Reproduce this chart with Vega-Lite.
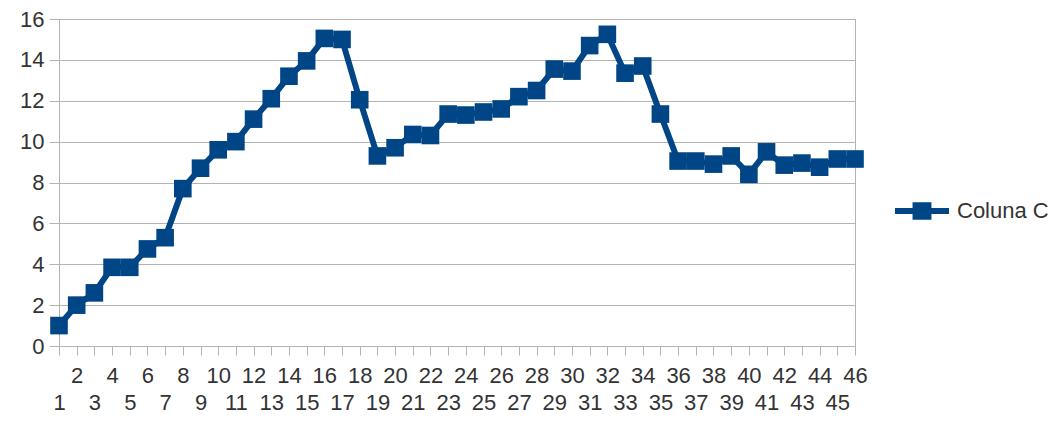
{
  "$schema": "https://vega.github.io/schema/vega-lite/v6.json",
  "width": 796,
  "height": 327,
  "autosize": {"type": "none"},
  "padding": {"left": 59, "top": 19, "right": 209, "bottom": 79},
  "background": "white",
  "config": {
    "view": {"stroke": "#b3b3b3", "strokeWidth": 1},
    "font": "Liberation Sans"
  },
  "data": {
    "values": [
      {"n": 1, "v": 1.0, "s": "Coluna C"},
      {"n": 2, "v": 2.0, "s": "Coluna C"},
      {"n": 3, "v": 2.6, "s": "Coluna C"},
      {"n": 4, "v": 3.85, "s": "Coluna C"},
      {"n": 5, "v": 3.85, "s": "Coluna C"},
      {"n": 6, "v": 4.75, "s": "Coluna C"},
      {"n": 7, "v": 5.3, "s": "Coluna C"},
      {"n": 8, "v": 7.7, "s": "Coluna C"},
      {"n": 9, "v": 8.7, "s": "Coluna C"},
      {"n": 10, "v": 9.6, "s": "Coluna C"},
      {"n": 11, "v": 10.0, "s": "Coluna C"},
      {"n": 12, "v": 11.1, "s": "Coluna C"},
      {"n": 13, "v": 12.1, "s": "Coluna C"},
      {"n": 14, "v": 13.2, "s": "Coluna C"},
      {"n": 15, "v": 13.95, "s": "Coluna C"},
      {"n": 16, "v": 15.05, "s": "Coluna C"},
      {"n": 17, "v": 15.0, "s": "Coluna C"},
      {"n": 18, "v": 12.05, "s": "Coluna C"},
      {"n": 19, "v": 9.3, "s": "Coluna C"},
      {"n": 20, "v": 9.7, "s": "Coluna C"},
      {"n": 21, "v": 10.35, "s": "Coluna C"},
      {"n": 22, "v": 10.3, "s": "Coluna C"},
      {"n": 23, "v": 11.35, "s": "Coluna C"},
      {"n": 24, "v": 11.3, "s": "Coluna C"},
      {"n": 25, "v": 11.45, "s": "Coluna C"},
      {"n": 26, "v": 11.6, "s": "Coluna C"},
      {"n": 27, "v": 12.2, "s": "Coluna C"},
      {"n": 28, "v": 12.5, "s": "Coluna C"},
      {"n": 29, "v": 13.55, "s": "Coluna C"},
      {"n": 30, "v": 13.45, "s": "Coluna C"},
      {"n": 31, "v": 14.7, "s": "Coluna C"},
      {"n": 32, "v": 15.25, "s": "Coluna C"},
      {"n": 33, "v": 13.35, "s": "Coluna C"},
      {"n": 34, "v": 13.7, "s": "Coluna C"},
      {"n": 35, "v": 11.35, "s": "Coluna C"},
      {"n": 36, "v": 9.05, "s": "Coluna C"},
      {"n": 37, "v": 9.05, "s": "Coluna C"},
      {"n": 38, "v": 8.9, "s": "Coluna C"},
      {"n": 39, "v": 9.3, "s": "Coluna C"},
      {"n": 40, "v": 8.4, "s": "Coluna C"},
      {"n": 41, "v": 9.5, "s": "Coluna C"},
      {"n": 42, "v": 8.85, "s": "Coluna C"},
      {"n": 43, "v": 8.95, "s": "Coluna C"},
      {"n": 44, "v": 8.75, "s": "Coluna C"},
      {"n": 45, "v": 9.15, "s": "Coluna C"},
      {"n": 46, "v": 9.15, "s": "Coluna C"}
    ]
  },
  "mark": {
    "type": "line",
    "strokeWidth": 6,
    "point": {"shape": "square", "size": 310, "filled": true, "opacity": 1}
  },
  "encoding": {
    "x": {
      "field": "n",
      "type": "ordinal",
      "sort": "ascending",
      "scale": {"type": "point", "padding": 0},
      "axis": {
        "title": null,
        "grid": false,
        "labelAngle": 0,
        "labelFontSize": 22,
        "labelColor": "#333333",
        "labelBaseline": "top",
        "labelLineHeight": 27,
        "labelPadding": 10,
        "labelOverlap": false,
        "labelFlush": false,
        "labelBound": false,
        "labelExpr": "datum.value % 2 == 0 ? datum.label : ['', datum.label]",
        "domainColor": "#b3b3b3",
        "tickColor": "#b3b3b3",
        "tickSize": 9
      }
    },
    "y": {
      "field": "v",
      "type": "quantitative",
      "scale": {"domain": [0, 16], "nice": false, "zero": true},
      "axis": {
        "title": null,
        "values": [0, 2, 4, 6, 8, 10, 12, 14, 16],
        "grid": true,
        "gridColor": "#b3b3b3",
        "labelFontSize": 22,
        "labelColor": "#333333",
        "labelPadding": 5,
        "domainColor": "#b3b3b3",
        "tickColor": "#b3b3b3",
        "tickSize": 10
      }
    },
    "color": {
      "field": "s",
      "type": "nominal",
      "scale": {"range": ["#004586"]},
      "legend": {
        "title": null,
        "orient": "none",
        "legendX": 836,
        "legendY": 165,
        "padding": 0,
        "labelFontSize": 22,
        "labelColor": "#333333",
        "labelOffset": 8,
        "symbolSize": 2916,
        "symbolType": "M-1,-0.11H1V0.11H-1Z M-0.35,-0.32H0.35V0.32H-0.35Z",
        "symbolFillColor": "#004586",
        "symbolStrokeWidth": 0,
        "encode": {
          "symbols": {
            "update": {
              "fill": {"value": "#004586"},
              "strokeWidth": {"value": 0},
              "opacity": {"value": 1}
            }
          }
        }
      }
    }
  }
}
